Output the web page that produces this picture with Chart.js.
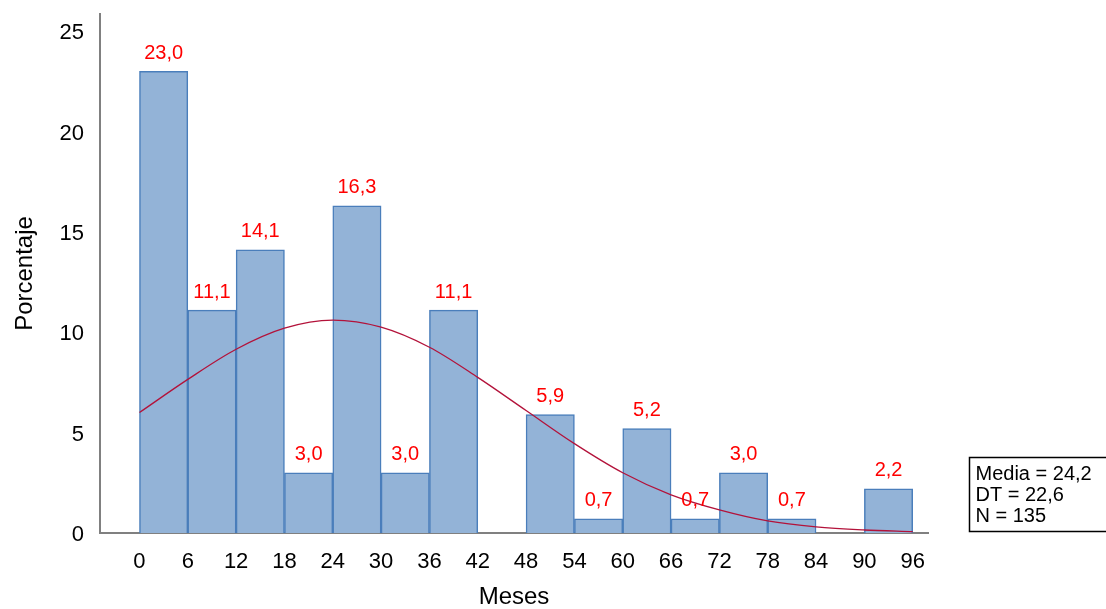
<!DOCTYPE html>
<html>
<head>
<meta charset="utf-8">
<script src="https://cdn.jsdelivr.net/npm/chart.js@4.4.1/dist/chart.umd.min.js"></script>
<style>
  html, body { margin: 0; padding: 0; background: #fff; }
  #wrap { width: 1106px; height: 609px; }
</style>
</head>
<body>
<div id="wrap"><canvas id="chart" width="1106" height="609"></canvas></div>
<script>
// Histogram bins (months), bin centres and percentages
const binStarts = [0, 6, 12, 18, 24, 30, 36, 42, 48, 54, 60, 66, 72, 78, 84, 90];
const binWidth = 6;
const percentages = [23.0, 11.1, 14.1, 3.0, 16.3, 3.0, 11.1, null, 5.9, 0.7, 5.2, 0.7, 3.0, 0.7, null, 2.2];

// Normal curve (x in months, y in %)
const curveX = [0, 6, 12, 18, 24, 30, 36, 42, 48, 54, 60, 66, 72, 78, 84, 90, 96];
const curveY = [6.0, 7.65, 9.15, 10.2, 10.6, 10.25, 9.25, 7.75, 6.1, 4.45, 3.0, 1.9, 1.15, 0.6, 0.3, 0.15, 0.07];

const xTicks = [0, 6, 12, 18, 24, 30, 36, 42, 48, 54, 60, 66, 72, 78, 84, 90, 96];
const yTicks = [0, 5, 10, 15, 20, 25];

const statsLines = ['Media = 24,2', 'DT = 22,6', 'N = 135'];

const FONT = "'Liberation Sans', Arial, sans-serif";

const barData = binStarts.map((s, i) => ({ x: s + binWidth / 2, y: percentages[i] }));
const lineData = curveX.map((x, i) => ({ x: x, y: curveY[i] }));

// red value labels above the bars
const barLabels = {
  id: 'barLabels',
  afterDatasetsDraw(chart) {
    const ctx = chart.ctx;
    const meta = chart.getDatasetMeta(1);
    ctx.save();
    ctx.fillStyle = '#ff0000';
    ctx.font = '20px ' + FONT;
    ctx.textAlign = 'center';
    ctx.textBaseline = 'middle';
    meta.data.forEach((bar, i) => {
      const v = percentages[i];
      if (v === null) return;
      ctx.fillText(v.toFixed(1).replace('.', ','), bar.x, bar.y - 18);
    });
    ctx.restore();
  }
};

// statistics box on the right
const statsBox = {
  id: 'statsBox',
  afterDraw(chart) {
    const ctx = chart.ctx;
    const left = chart.chartArea.right + 41.5;
    const top = 457.5;
    ctx.save();
    ctx.strokeStyle = '#000';
    ctx.lineWidth = 1.5;
    ctx.strokeRect(left, top, 150, 74);
    ctx.fillStyle = '#000';
    ctx.font = '20px ' + FONT;
    ctx.textAlign = 'left';
    ctx.textBaseline = 'alphabetic';
    statsLines.forEach((t, i) => ctx.fillText(t, left + 6, top + 22 + i * 21));
    ctx.restore();
  }
};

new Chart(document.getElementById('chart'), {
  data: {
    datasets: [
      {
        type: 'line',
        data: lineData,
        borderColor: '#b3123a',
        borderWidth: 1.3,
        pointRadius: 0,
        tension: 0.4,
        cubicInterpolationMode: 'monotone',
        order: 0
      },
      {
        type: 'bar',
        data: barData,
        backgroundColor: '#93b3d7',
        borderColor: '#4a7ebb',
        borderWidth: 1.5,
        barPercentage: 1,
        categoryPercentage: 1,
        order: 1
      }
    ]
  },
  options: {
    responsive: false,
    animation: false,
    layout: { padding: { top: 14, right: 178, left: 0, bottom: 0 } },
    plugins: {
      legend: { display: false },
      tooltip: { enabled: false }
    },
    scales: {
      x: {
        type: 'linear',
        offset: false,
        min: -4.9,
        max: 97.9,
        grid: { display: false, drawTicks: false },
        border: { display: true, color: '#808080', width: 2 },
        afterBuildTicks: (s) => { s.ticks = xTicks.map(v => ({ value: v })); },
        afterFit: (s) => { s.height = 76; s.paddingLeft = 0; s.paddingRight = 0; },
        ticks: {
          color: '#000',
          font: { family: FONT, size: 22 },
          padding: 16,
          maxRotation: 0,
          autoSkip: false
        },
        title: {
          display: true,
          text: 'Meses',
          color: '#000',
          font: { family: FONT, size: 24 },
          padding: { top: 0, bottom: -3 }
        }
      },
      y: {
        min: 0,
        max: 25.85,
        grid: { display: false, drawTicks: false },
        border: { display: true, color: '#808080', width: 2 },
        afterBuildTicks: (s) => { s.ticks = yTicks.map(v => ({ value: v })); },
        afterFit: (s) => { s.width = 100; s.paddingTop = 0; s.paddingBottom = 0; },
        ticks: {
          color: '#000',
          font: { family: FONT, size: 22 },
          padding: 16,
          labelOffset: 2
        },
        title: {
          display: true,
          text: 'Porcentaje',
          color: '#000',
          font: { family: FONT, size: 24 },
          padding: { top: 11, bottom: 0 }
        }
      }
    }
  },
  plugins: [barLabels, statsBox]
});
</script>
</body>
</html>
